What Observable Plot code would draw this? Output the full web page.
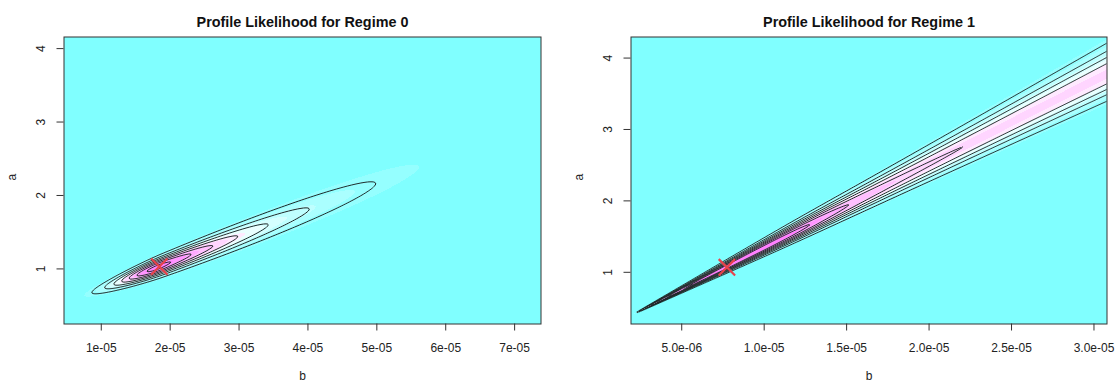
<!DOCTYPE html>
<html>
<head>
<meta charset="utf-8">
<script src="https://cdn.jsdelivr.net/npm/d3@7"></script>
<script src="https://cdn.jsdelivr.net/npm/@observablehq/plot@0.6"></script>
<style>
  body { margin: 0; background: #ffffff; }
  #chart { position: relative; width: 1117px; height: 383px; }
  #chart svg { position: absolute; top: 0; }
</style>
</head>
<body>
<div id="chart"></div>
<script>
// ---- Panel text -------------------------------------------------------------
const titles = ["Profile Likelihood for Regime 0", "Profile Likelihood for Regime 1"];
const xLabel = "b";
const yLabel = "a";

// ---- Axes -------------------------------------------------------------------
const bTicks0 = [1e-5, 2e-5, 3e-5, 4e-5, 5e-5, 6e-5, 7e-5];
const bTickLabels0 = ["1e-05", "2e-05", "3e-05", "4e-05", "5e-05", "6e-05", "7e-05"];
const bTicks1 = [5e-6, 1e-5, 1.5e-5, 2e-5, 2.5e-5, 3e-5];
const bTickLabels1 = ["5.0e-06", "1.0e-05", "1.5e-05", "2.0e-05", "2.5e-05", "3.0e-05"];
const aTicks = [1, 2, 3, 4];
const aTickLabels = ["1", "2", "3", "4"];

// grid extent of each profile (b and a)
const bRange0 = [0.459e-5, 7.383e-5];
const aRange0 = [0.25, 4.158];
const bRange1 = [1.924e-6, 3.079e-5];
const aRange1 = [0.276, 4.295];

// ---- Maximum likelihood estimates (red cross) -------------------------------
const mleB = [1.842e-5, 7.74e-6];
const mleA = [1.031, 1.07];

// ---- Likelihood surface description -----------------------------------------
const contourLevels = [0.1, 0.2, 0.3, 0.4, 0.5, 0.6, 0.7, 0.8, 0.9];
const peakLikelihood = [0.75, 0.8];

// Regime 0: straight ridge through the MLE, skewed decay along it
const ridgeSlope0 = [35970];            // da/db along the ridge
const decayUp0 = [0.54, 1.15];          // coefficient, exponent (b above MLE, units 1e-05)
const decayDown0 = [2.1, 2];            // coefficient, exponent (b below MLE)
const width0 = [0.08, -1.345];          // cross width at MLE, b where width vanishes (1e-05)

// Regime 1: fan of rays from a common apex, ridge along one ray
const apex1 = [1.7e-6, 0.37];           // b, a
const ridgeRatio1 = [117200];           // (a - a0) / (b - b0) on the ridge
const rayWidth1 = [0.067];              // log-ratio spread
const decayUp1 = [0.508, 0.684, 3.4];   // plateau, half-way distance (1e-05), steepness
const decayDown1 = [9.8e-7];            // steepness toward the apex

// cm.colors(12)
const cmColors = ["#80FFFF", "#95FFFF", "#AAFFFF", "#BFFFFF", "#D5FFFF", "#EAFFFF",
                  "#FFEAFF", "#FFD5FF", "#FFBFFF", "#FFAAFF", "#FF95FF", "#FF80FF"];

function surface0(b, a) {
  const u = b * 1e5, u0 = mleB[0] * 1e5;
  const d = u - u0;
  const g = d > 0 ? decayUp0[0] * Math.pow(d, decayUp0[1])
                  : decayDown0[0] * Math.pow(-d, decayDown0[1]);
  const w = width0[0] * (u - width0[1]) / (u0 - width0[1]);
  const v = a - (mleA[0] + ridgeSlope0[0] * (b - mleB[0]));
  return peakLikelihood[0] * Math.exp(-(g + v * v / (2 * w * w)));
}

function surface1(b, a) {
  const t = b - apex1[0];
  if (t <= 0) return 0;
  const s = (a - apex1[1]) / t;
  if (s <= 0) return 0;
  const ls = Math.log(s / ridgeRatio1[0]);
  const tm = mleB[1] - apex1[0];
  const d = (b - mleB[1]) * 1e5;
  let g;
  if (d > 0) {
    const h = Math.pow(d / decayUp1[1], decayUp1[2]);
    g = decayUp1[0] * h / (1 + h);
  } else {
    g = decayDown1[0] * (1 / t - 1 / tm);
  }
  return peakLikelihood[1] * Math.exp(-(g + ls * ls / (2 * rayWidth1[0] * rayWidth1[0])));
}

const font = '"Liberation Sans", Arial, Helvetica, sans-serif';
const ink = "#222";

function panel({i, f, bRange, aRange, bTicks, bTickLabels, width, marginLeft, marginRight}) {
  const [b1, b2] = bRange, [a1, a2] = aRange;
  const breaks = d3.range(1, 12).map(k => k / 12 * peakLikelihood[i]);
  // contour lines are traced a little beyond the frame so that they end open at its edge
  const pb = (b2 - b1) * 0.03, pa = (a2 - a1) * 0.03;
  return Plot.plot({
    width, height: 383,
    marginLeft, marginRight, marginTop: 36.5, marginBottom: 59.5,
    x: {domain: [b1, b2]},
    y: {domain: [a1, a2]},
    color: {type: "threshold", domain: breaks, range: cmColors},
    style: {fontFamily: font, fontSize: "12px", color: ink, background: "transparent"},
    marks: [
      Plot.raster({x1: b1, x2: b2, y1: a1, y2: a2, fill: f, pixelSize: 1}),
      Plot.contour({x1: b1 - pb, x2: b2 + pb, y1: a1 - pa, y2: a2 + pa, value: f,
                    thresholds: contourLevels, clip: true,
                    fill: "none", stroke: "#1c2626", strokeWidth: 1, pixelSize: 1}),
      Plot.dot([{b: mleB[i], a: mleA[i]}], {x: "b", y: "a", symbol: "times", r: 7.5,
                    fill: "none", stroke: "#e8434c", strokeWidth: 2.2}),
      Plot.frame({stroke: "#333"}),
      Plot.axisX(bTicks, {tickSize: 7, fill: "none", stroke: "#333", label: null}),
      Plot.axisY(aTicks, {tickSize: 7, fill: "none", stroke: "#333", label: null}),
      Plot.text(bTicks, {x: d => d, text: (d, k) => bTickLabels[k], frameAnchor: "bottom",
                    dy: 24, lineAnchor: "middle", fill: ink}),
      Plot.text(aTicks, {y: d => d, text: (d, k) => aTickLabels[k], frameAnchor: "left",
                    dx: -23, rotate: -90, textAnchor: "middle", lineAnchor: "middle", fill: ink}),
      Plot.text([xLabel], {text: d => d, frameAnchor: "bottom", dy: 52, lineAnchor: "middle", fill: ink}),
      Plot.text([yLabel], {text: d => d, frameAnchor: "left", dx: -51.5, rotate: -90,
                    lineAnchor: "middle", fill: ink}),
      Plot.text([titles[i]], {text: d => d, frameAnchor: "top", dy: -15, lineAnchor: "middle",
                    fontWeight: "bold", fontSize: 14.4, fill: "#111"})
    ]
  });
}

const left = panel({i: 0, f: surface0, bRange: bRange0, aRange: aRange0,
                    bTicks: bTicks0, bTickLabels: bTickLabels0,
                    width: 558, marginLeft: 63.5, marginRight: 17.5});
const right = panel({i: 1, f: surface1, bRange: bRange1, aRange: aRange1,
                    bTicks: bTicks1, bTickLabels: bTickLabels1,
                    width: 559, marginLeft: 72.5, marginRight: 10.5});
left.style.left = "0px";
right.style.left = "558px";
document.getElementById("chart").append(left, right);
</script>
</body>
</html>
